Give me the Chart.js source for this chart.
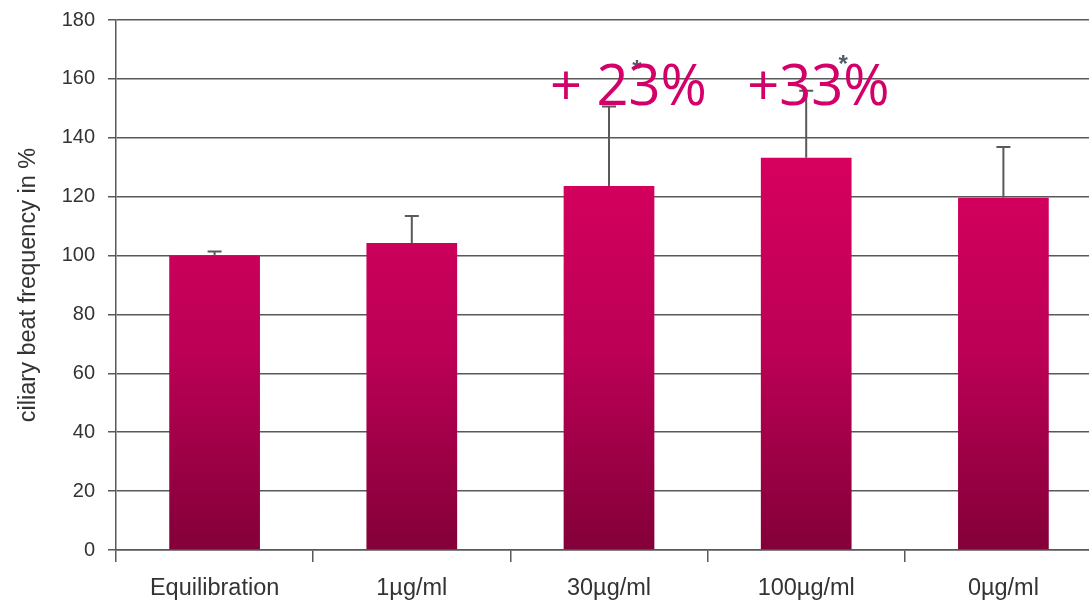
<!DOCTYPE html>
<html>
<head>
<meta charset="utf-8">
<script src="https://cdn.jsdelivr.net/npm/chart.js@4/dist/chart.umd.min.js"></script>
<style>
  html, body { margin: 0; padding: 0; background: #fff; overflow: hidden; }
  #wrap { width: 1105px; height: 602px; }
</style>
</head>
<body>
<div id="wrap"><canvas id="cbfChart"></canvas></div>
<script>
// ----- Data -----
const categories = ['Equilibration', '1µg/ml', '30µg/ml', '100µg/ml', '0µg/ml'];
const cbfValues  = [100, 104.3, 123.6, 133.2, 119.6];
const errorTops  = [101.4, 113.4, 150.6, 156.0, 136.9];
const yTicks     = [0, 20, 40, 60, 80, 100, 120, 140, 160, 180];

// increase labels above the significant bars
const noteIndex  = [2, 3];
const noteLabels = ['+ 23%', '+33%'];
const noteLevel  = [151, 151];
const starLevel  = [160.8, 162.4];

const gridColor = '#595959';
const textColor = '#333333';

// ----- Error bars, asterisks and % labels -----
const extrasPlugin = {
  id: 'extras',
  afterDatasetsDraw(chart) {
    const { ctx, scales: { x, y } } = chart;
    const meta = chart.getDatasetMeta(0);
    ctx.save();
    ctx.strokeStyle = '#595959';
    ctx.lineWidth = 2;
    meta.data.forEach((bar, i) => {
      const top = y.getPixelForValue(errorTops[i]);
      ctx.beginPath();
      ctx.moveTo(bar.x, bar.y);
      ctx.lineTo(bar.x, top);
      ctx.moveTo(bar.x - 7, top);
      ctx.lineTo(bar.x + 7, top);
      ctx.stroke();
    });

    noteIndex.forEach((idx, k) => {
      const cx = x.getPixelForValue(idx);
      ctx.fillStyle = '#4f5d6b';
      ctx.font = 'bold 24px "Liberation Sans", Arial, sans-serif';
      ctx.textAlign = 'center';
      ctx.textBaseline = 'alphabetic';
      ctx.fillText('*', cx + (k === 0 ? 28 : 37), y.getPixelForValue(starLevel[k]));

      ctx.fillStyle = '#D4006A';
      ctx.font = '56px "Open Sans", sans-serif';
      ctx.textAlign = 'left';
      ctx.fillText(noteLabels[k], cx - 59, y.getPixelForValue(noteLevel[k]));
    });
    ctx.restore();
  }
};

// ----- Chart -----
const ctx = document.getElementById('cbfChart');
new Chart(ctx, {
  type: 'bar',
  data: {
    labels: categories,
    datasets: [{
      data: cbfValues,
      backgroundColor: (c) => {
        const area = c.chart.chartArea;
        if (!area) return '#C00058';
        const g = c.chart.ctx.createLinearGradient(0, c.chart.scales.y.getPixelForValue(135), 0, area.bottom);
        g.addColorStop(0, '#D8005F');
        g.addColorStop(0.5, '#BC0056');
        g.addColorStop(1, '#830038');
        return g;
      },
      borderWidth: 0,
      barPercentage: 0.46,
      categoryPercentage: 1.0
    }]
  },
  options: {
    responsive: true,
    maintainAspectRatio: false,
    animation: false,
    layout: { padding: { left: 0, right: 3, top: 20, bottom: 0 } },
    plugins: {
      legend: { display: false },
      tooltip: { enabled: false }
    },
    scales: {
      x: {
        offset: true,
        grid: {
          offset: true,
          drawOnChartArea: false,
          drawTicks: true,
          tickLength: 12,
          color: gridColor,
          lineWidth: 1.5
        },
        border: { color: gridColor, width: 1.5 },
        ticks: {
          color: textColor,
          padding: 12,
          font: { family: '"Liberation Sans", Arial, sans-serif', size: 23.5 }
        },
        afterFit: (scale) => { scale.height = 52; }
      },
      y: {
        min: 0,
        max: 180,
        afterBuildTicks: (scale) => { scale.ticks = yTicks.map(v => ({ value: v })); },
        grid: {
          color: gridColor,
          lineWidth: 1.5,
          tickLength: 8
        },
        border: { color: gridColor, width: 1.5 },
        ticks: {
          color: textColor,
          padding: 13,
          font: { family: '"Liberation Sans", Arial, sans-serif', size: 20 }
        },
        title: {
          display: true,
          text: 'ciliary beat frequency in %',
          color: textColor,
          padding: { top: 14, bottom: 0 },
          font: { family: '"Liberation Sans", Arial, sans-serif', size: 23.5 }
        },
        afterFit: (scale) => {
          scale.width = 116;
          scale.paddingTop = 0;
          scale.paddingBottom = 0;
        }
      }
    }
  },
  plugins: [extrasPlugin]
});
</script>
</body>
</html>
